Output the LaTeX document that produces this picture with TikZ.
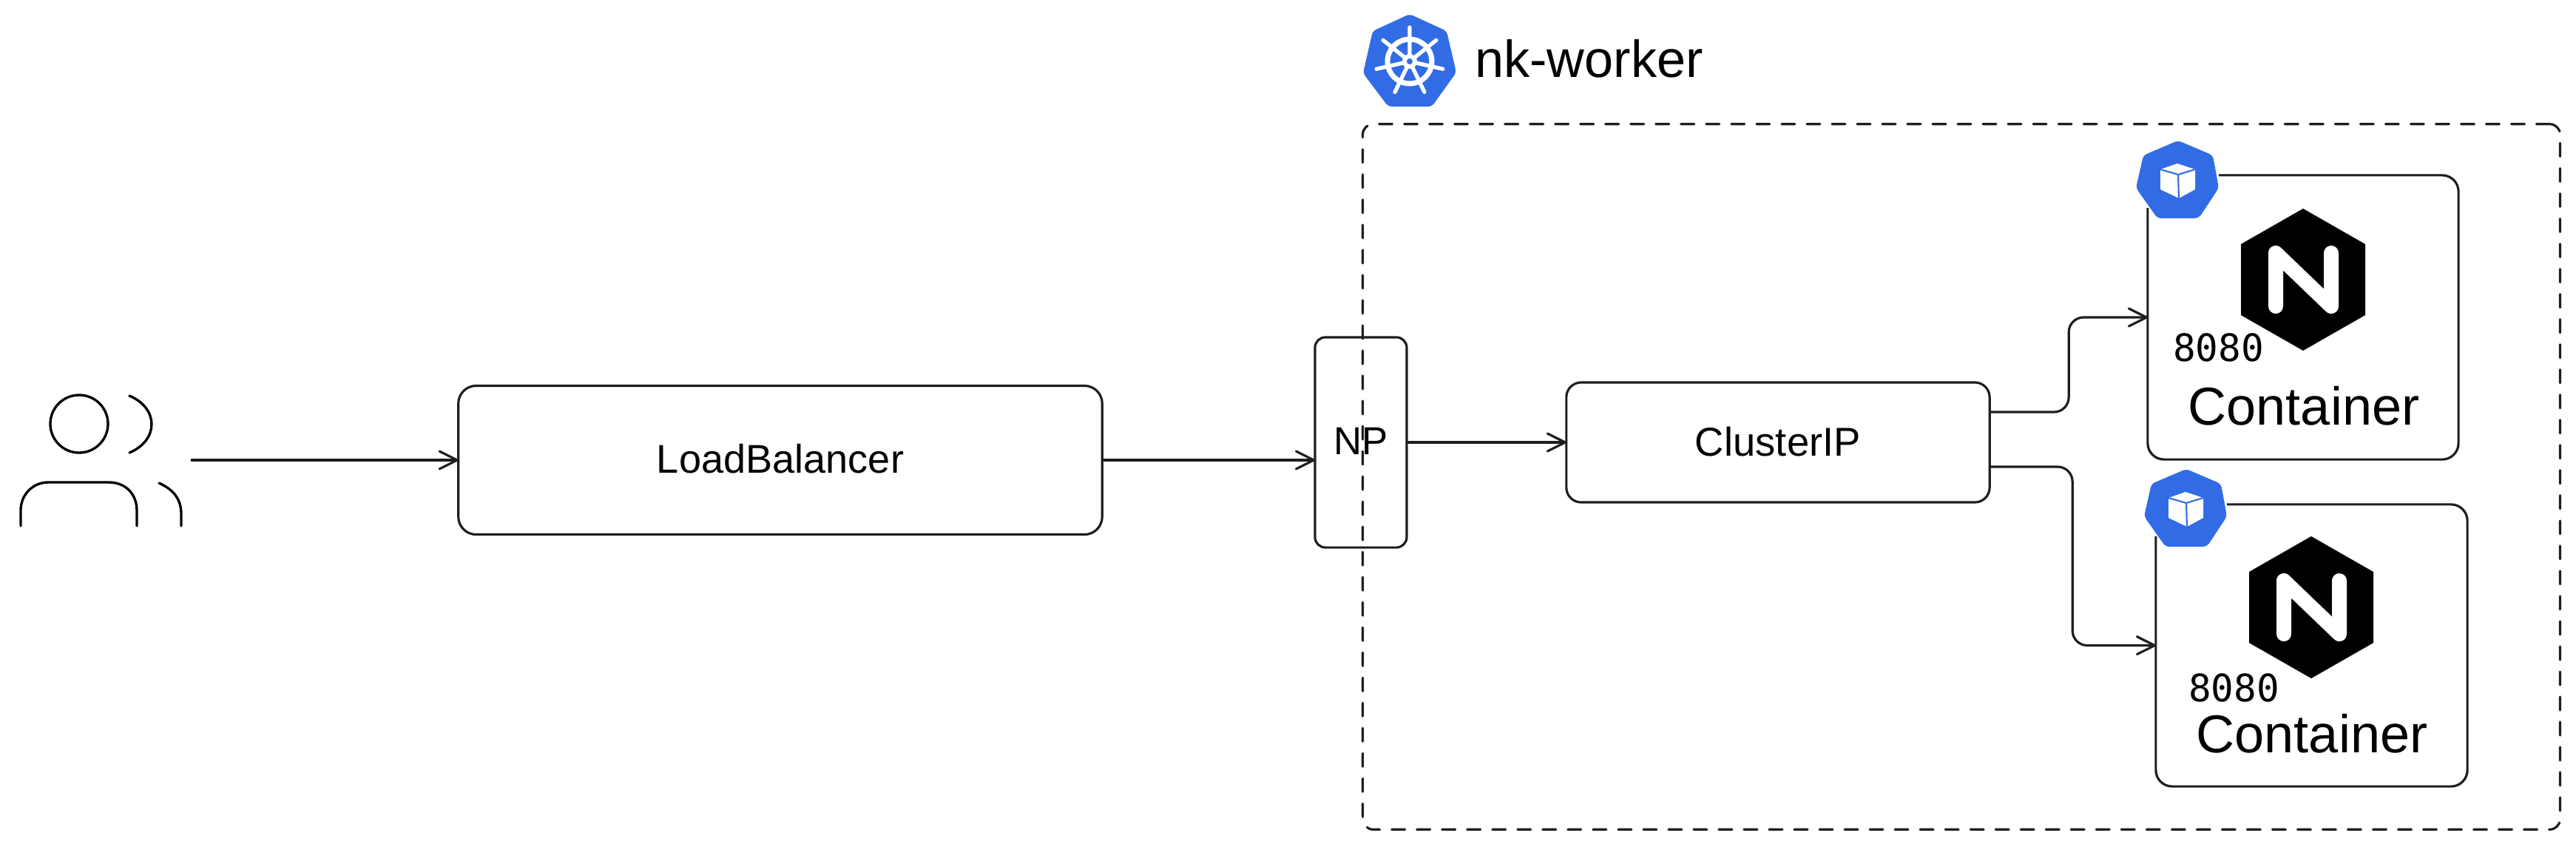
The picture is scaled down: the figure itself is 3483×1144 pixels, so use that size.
\documentclass[tikz,border=0pt]{standalone}
\usepackage{fontspec}
\setmainfont{Liberation Sans}
\newfontfamily\portfont{DejaVu Sans Mono}
\usetikzlibrary{arrows.meta}

\definecolor{inkgray}{HTML}{1E1E1E}
\definecolor{kubeblue}{HTML}{326CE5}

\tikzset{node:style/.style={draw=inkgray,line width=0.9pt,shape=rectangle,inner sep=0pt,outer sep=0pt,text depth=1pt,text=black}}
\tikzset{edge:style/.style={draw=inkgray,line width=0.9pt,line cap=round,line join=round,shorten <=0.6pt,-{Straight Barb[length=6.8pt,width=6.8pt,round]}}}
\tikzset{text:style/.style={anchor=base,inner sep=0pt,outer sep=0pt,text=black}}
\tikzset{person:style/.style={draw=black,line width=0.95pt,line cap=round}}
\tikzset{pod:icon/.pic={
	\fill[white] (-55,-51) rectangle (55,39);
	\fill[kubeblue,rounded corners=0.05cm] (0,-52) -- (47,-32) -- (55,12) -- (28,53) -- (-28,53) -- (-57,12) -- (-47,-32) -- cycle;
	\fill[white] (-1,-21) -- (23,-13) -- (23,14) -- (1,26) -- (-24,14) -- (-24,-13) -- cycle;
	\draw[kubeblue,line width=0.6pt] (-24,-13) -- (0,-6) -- (23,-13) (0,-6) -- (1,26);
}}
\tikzset{nginx:icon/.pic={
	\fill[black] (0,-96) -- (84,-48) -- (84,48) -- (0,96) -- (-84,48) -- (-84,-48) -- cycle;
	\draw[white,line width=0.2cm,line cap=round,line join=round] (-37,36) -- (-37,-36) -- (38,36) -- (38,-36);
}}
\tikzset{wheel:icon/.pic={
	\fill[kubeblue,rounded corners=0.05cm] (0,-64) -- (50,-41) -- (63,15) -- (30,61) -- (-29,61) -- (-63,16) -- (-50,-41) -- cycle;
	\draw[white,line width=2pt] (0,0) circle (30);
	\draw[white,line width=1.5pt,line cap=round] (0,0) -- (-90:46) (0,0) -- (-38.57:46) (0,0) -- (12.86:46) (0,0) -- (64.29:46) (0,0) -- (115.71:46) (0,0) -- (167.14:46) (0,0) -- (-141.43:46);
	\fill[white] (0,0) circle (10);
	\fill[kubeblue] (0,0) circle (4);
}}
\def\nodetext{\fontsize{15.4}{18}\selectfont}
\def\podtext{\fontsize{20.5}{25}\selectfont}
\def\porttext{\portfont\fontsize{14.5}{16}\selectfont}

\begin{document}
\begin{tikzpicture}[x=0.01cm,y=-0.01cm]
	\useasboundingbox (0,0) rectangle (3483,1144);

	% worker frame
	\path (2652,644.5) node[node:style,minimum width=16.18cm,minimum height=9.53cm,rounded corners=0.14cm,dash pattern=on 0.18cm off 0.16cm,line cap=round] (worker) {};
	\path (1906,83) pic {wheel:icon};
	\path (1994,104) node[text:style,anchor=base west] (workerlabel) {\fontsize{20}{24}\selectfont nk-worker};

	% user
	\draw[person:style] (107,573) ellipse (39 and 39);
	\draw[person:style] (175,535) .. controls (215,552) and (215,595) .. (175,612);
	\draw[person:style] (28,711) -- (28,690) .. controls (28,668) and (45,652) .. (65,652) -- (147,652) .. controls (170,652) and (185,668) .. (185,690) -- (185,711);
	\draw[person:style] (215,653) .. controls (235,662) and (245,675) .. (245,695) -- (245,711);
	\path (257,622) coordinate (user);

	% boxes
	\path (1055,622) node[node:style,minimum width=8.70cm,minimum height=2.01cm,rounded corners=0.24cm] (lb) {\nodetext LoadBalancer};
	\path (1840,598) node[node:style,minimum width=1.24cm,minimum height=2.84cm,rounded corners=0.14cm] (np) {\fontsize{15}{18}\selectfont NP};
	\path (2404,598) node[node:style,minimum width=5.72cm,minimum height=1.62cm,rounded corners=0.20cm] (cluster) {\fontsize{15.5}{18}\selectfont ClusterIP};
	\path (3114,429) node[node:style,minimum width=4.20cm,minimum height=3.84cm,rounded corners=0.22cm] (pod1) {};
	\path (3125.5,872.5) node[node:style,minimum width=4.21cm,minimum height=3.81cm,rounded corners=0.22cm] (pod2) {};

	% first pod
	\path (2945,242) pic {pod:icon};
	\path (3114,378) pic {nginx:icon};
	\path (2938,488) node[text:style,anchor=base west] (port1) {\porttext 8080};
	\path (3115,574) node[text:style] (name1) {\podtext Container};

	% second pod
	\path (2956,686) pic {pod:icon};
	\path (3125,821) pic {nginx:icon};
	\path (2959,948) node[text:style,anchor=base west] (port2) {\porttext 8080};
	\path (3126,1017) node[text:style] (name2) {\podtext Container};

	% connectors
	\path
		(cluster.east) ++(0,-41) coordinate (cout1)
		++(107,0) coordinate (cbend1);
	\path
		(cluster.east) ++(0,33) coordinate (cout2)
		++(112,0) coordinate (cbend2);

	\path[edge:style] (user) -- (lb.west);
	\path[edge:style] (lb.east) -- (lb.east -| np.west);
	\path[edge:style] (np.east) -- (cluster.west);
	\path[edge:style,rounded corners=0.2cm] (cout1) -- (cbend1) |- (pod1.west);
	\path[edge:style,rounded corners=0.2cm] (cout2) -- (cbend2) |- (pod2.west);
\end{tikzpicture}
\end{document}
